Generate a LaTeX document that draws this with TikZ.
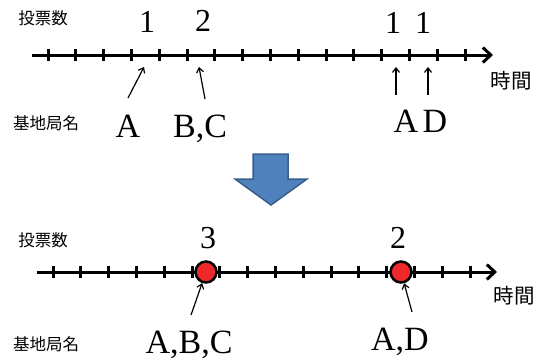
\documentclass[tikz,border=0pt]{standalone}
\usepackage{fontspec}
\setmainfont{Liberation Serif}
\newfontfamily\jpfont{Noto Sans CJK JP}
\usetikzlibrary{arrows.meta}
\definecolor{bluefill}{RGB}{79,129,189}
\definecolor{blueedge}{RGB}{56,93,138}
\definecolor{dotred}{RGB}{237,41,41}
\begin{document}
\begin{tikzpicture}[x=1pt,y=-1pt,
  axis/.style={line width=3pt,-{Straight Barb[length=8pt,width=15pt]}},
  tickmark/.style={line width=3pt},
  ptr/.style={line width=1.2pt,-{Straight Barb[length=4.5pt,width=7pt]}},
  num/.style={font=\fontsize{32}{36}\selectfont, anchor=base, inner sep=0pt},
  lab/.style={font=\fontsize{34}{38}\selectfont, anchor=base, inner sep=0pt},
  jp/.style={font=\jpfont\fontsize{16.5}{18}\selectfont, inner sep=0pt},
  jpbig/.style={font=\jpfont\fontsize{20.5}{22}\selectfont, inner sep=0pt},
  dot/.style={circle, fill=dotred, draw=black, line width=2.5pt, minimum size=21pt, inner sep=0pt},
]
\useasboundingbox (0,0) rectangle (538,359);

% ---------- top timeline ----------
\node[jp] (votesT) at (43,18) {投票数};
\node[jp] (baseT) at (46,123) {基地局名};
\node[jpbig] (timeT) at (511,81) {時間};

\coordinate (axTs) at (32,55);
\coordinate (axTe) at (493,55);
\draw[axis] (axTs) -- (axTe);
\foreach \i in {0,...,15}
  \draw[tickmark] ({48+27.8*\i},49) -- ({48+27.8*\i},61);

\node[num] (nT1) at (147,32) {1};
\node[num] (nT2) at (203,31) {2};
\node[num] (nT3) at (393,33) {1};
\node[num] (nT4) at (423,33) {1};

\node[lab] (lTA) at (128,137) {A};
\node[lab] (lTBC) at (200,137) {B,C};
\node[lab] (lTA2) at (406,132) {A};
\node[lab] (lTD) at (435,132) {D};

\coordinate (pT1s) at (128,98);  \coordinate (pT1e) at (144,67);
\coordinate (pT2s) at (205,99);  \coordinate (pT2e) at (199,67);
\coordinate (pT3s) at (396,95);  \coordinate (pT3e) at (396,67);
\coordinate (pT4s) at (428,95);  \coordinate (pT4e) at (428,67);
\draw[ptr] (pT1s) -- (pT1e);
\draw[ptr] (pT2s) -- (pT2e);
\draw[ptr] (pT3s) -- (pT3e);
\draw[ptr] (pT4s) -- (pT4e);

% ---------- block arrow ----------
\draw[fill=bluefill, draw=blueedge, line width=1.5pt, line join=miter]
  (253,154) -- (288,154) -- (288,179) -- (307,179) -- (271,205) -- (235,179) -- (253,179) -- cycle;

% ---------- bottom timeline ----------
\node[jp] (votesB) at (43,240) {投票数};
\node[jp] (baseB) at (46,344) {基地局名};
\node[jpbig] (timeB) at (514,296) {時間};

\coordinate (axBs) at (37,272);
\coordinate (axBe) at (497,272);
\draw[axis] (axBs) -- (axBe);
\foreach \i in {0,...,15}
  \draw[tickmark] ({53+27.8*\i},266) -- ({53+27.8*\i},278);

\node[dot] (c1) at (206,272) {};
\node[dot] (c2) at (401,272) {};

\node[num] (nB1) at (208,248) {3};
\node[num] (nB2) at (398,248) {2};

\node[lab] (lBABC) at (189,353) {A,B,C};
\node[lab] (lBAD) at (400,350) {A,D};

\coordinate (pB1s) at (191,315);
\coordinate (pB2s) at (412,312);
\draw[ptr] (pB1s) -- (c1);
\draw[ptr] (pB2s) -- (c2);
\end{tikzpicture}
\end{document}
